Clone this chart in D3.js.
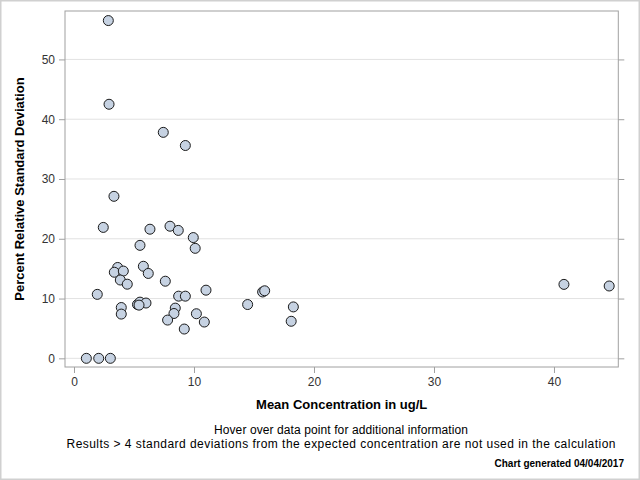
<!DOCTYPE html>
<html>
<head>
<meta charset="utf-8">
<script src="https://cdn.jsdelivr.net/npm/d3@7"></script>
<style>
  body { margin: 0; background: #fff; }
  text { font-family: Arial, "Liberation Sans", sans-serif; }
</style>
</head>
<body>
<div id="chart"></div>
<script>
// Mean concentration (ug/L) for each data point
var meanConc = [
  2.86, 2.92, 7.44, 9.28, 3.33,
  2.44, 6.33, 8.0, 8.69, 9.94, 10.1, 5.5,
  3.64, 3.36, 4.11, 3.86, 4.44, 5.78, 6.19, 7.61,
  1.94, 11.0, 3.94, 3.94,
  5.29, 5.5, 6.0, 5.42,
  8.72, 9.28, 8.44, 8.33, 7.8, 10.2, 10.86, 9.19,
  14.47, 15.72, 15.89, 18.28, 18.1,
  1.03, 2.06, 3.03,
  40.83, 44.6
];

// Percent relative standard deviation for each data point
var pctRsd = [
  56.5, 42.5, 37.8, 35.6, 27.1,
  21.9, 21.6, 22.1, 21.4, 20.2, 18.4, 18.9,
  15.2, 14.4, 14.6, 13.1, 12.4, 15.4, 14.2, 12.9,
  10.7, 11.4, 8.5, 7.4,
  9.0, 9.4, 9.25, 8.9,
  10.4, 10.4, 8.4, 7.5, 6.4, 7.46, 6.07, 4.9,
  9.0, 11.1, 11.3, 8.6, 6.2,
  0, 0, 0,
  12.37, 12.1
];

var xTicks = [0, 10, 20, 30, 40];
var yTicks = [0, 10, 20, 30, 40, 50];

var width = 640, height = 480;
var plot = {left: 65, right: 618.3, top: 11, bottom: 367};

var svg = d3.select("#chart").append("svg")
  .attr("width", width)
  .attr("height", height);

// outer border
svg.append("rect")
  .attr("x", 0).attr("y", 0)
  .attr("width", width).attr("height", height)
  .attr("fill", "none")
  .attr("stroke", "#d0d0d0")
  .attr("stroke-width", 3);

var x = d3.scaleLinear().domain([-0.75, 45.36]).range([plot.left, plot.right]);
var y = d3.scaleLinear().domain([-1.45, 58.1]).range([plot.bottom, plot.top]);

//Horizontal gridlines
svg.append("g").selectAll("line")
  .data(yTicks)
  .enter().append("line")
  .attr("x1", plot.left).attr("x2", plot.right)
  .attr("y1", function (d) { return y(d); })
  .attr("y2", function (d) { return y(d); })
  .attr("stroke", "#e2e2e2")
  .attr("stroke-width", 1);

//Axes
var axisColor = "#a0a0a0";
function styleAxis (g) {
  g.select(".domain").remove();
  g.selectAll(".tick line").attr("stroke", axisColor);
  g.selectAll(".tick text")
    .attr("fill", "#333")
    .style("font-size", "12px");
}

svg.append("g")
  .attr("transform", "translate(0," + plot.bottom + ")")
  .call(d3.axisBottom(x).tickValues(xTicks).tickSize(6).tickPadding(4))
  .call(styleAxis);

svg.append("g")
  .attr("transform", "translate(" + plot.left + ",0)")
  .call(d3.axisLeft(y).tickValues(yTicks).tickSize(6).tickPadding(4))
  .call(styleAxis);

svg.append("g")
  .attr("transform", "translate(" + plot.right + ",0)")
  .call(d3.axisRight(y).tickValues(yTicks).tickSize(6).tickFormat(""))
  .call(styleAxis);

//Plot frame
svg.append("rect")
  .attr("x", plot.left).attr("y", plot.top)
  .attr("width", plot.right - plot.left)
  .attr("height", plot.bottom - plot.top)
  .attr("fill", "none")
  .attr("stroke", axisColor)
  .attr("stroke-width", 1);

//Points
var points = meanConc.map(function (d, i) {
  return {x: d, y: pctRsd[i]};
});

svg.append("g").selectAll("circle")
  .data(points)
  .enter().append("circle")
  .attr("cx", function (d) { return x(d.x); })
  .attr("cy", function (d) { return y(d.y); })
  .attr("r", 5)
  .attr("fill", "#c6d2e2")
  .attr("stroke", "#1a1a1a")
  .attr("stroke-width", 1);

//Axis titles
svg.append("text")
  .attr("x", (plot.left + plot.right) / 2)
  .attr("y", 409)
  .attr("text-anchor", "middle")
  .style("font-size", "13px")
  .style("font-weight", "bold")
  .text("Mean Concentration in ug/L");

svg.append("text")
  .attr("transform", "translate(24," + (plot.top + plot.bottom) / 2 + ") rotate(-90)")
  .attr("text-anchor", "middle")
  .style("font-size", "13px")
  .style("font-weight", "bold")
  .text("Percent Relative Standard Deviation");

//Footnotes
svg.append("text")
  .attr("x", 341).attr("y", 434)
  .attr("text-anchor", "middle")
  .style("font-size", "12px")
  .attr("textLength", 254)
  .attr("lengthAdjust", "spacing")
  .text("Hover over data point for additional information");

svg.append("text")
  .attr("x", 341).attr("y", 448)
  .attr("text-anchor", "middle")
  .style("font-size", "12px")
  .attr("textLength", 549)
  .attr("lengthAdjust", "spacing")
  .text("Results > 4 standard deviations from the expected concentration are not used in the calculation");

svg.append("text")
  .attr("x", 624).attr("y", 467)
  .attr("text-anchor", "end")
  .style("font-size", "10px")
  .style("font-weight", "bold")
  .text("Chart generated 04/04/2017");
</script>
</body>
</html>
